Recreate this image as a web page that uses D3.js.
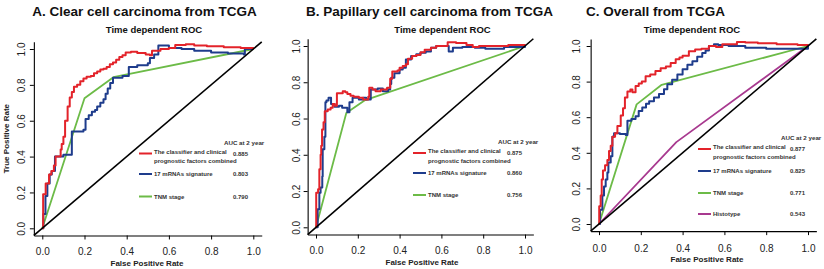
<!DOCTYPE html>
<html>
<head>
<meta charset="utf-8">
<script src="https://cdn.jsdelivr.net/npm/d3@7"></script>
<style>
  body { margin: 0; background: #fff; }
  svg { display: block; font-family: "Liberation Sans", Arial, sans-serif; }
</style>
</head>
<body>
<div id="wrapper"></div>
<script>
// tick values shared by every panel
const fprTicks = [0, 0.2, 0.4, 0.6, 0.8, 1.0]
const tprTicks = [0, 0.2, 0.4, 0.6, 0.8, 1.0]

const panelTitles = ["A. Clear cell carcinoma from TCGA", "B. Papillary cell carcinoma from TCGA", "C. Overall from TCGA"]
const subTitle = "Time dependent ROC"
const xTitle = "False Positive Rate"
const yTitle = "True Positive Rate"
const legendHeader = "AUC at 2 year"
const seriesNames = [
  ["The classifier and clinical", "prognostic factors combined"],
  ["17 mRNAs signature"],
  ["TNM stage"],
  ["Histotype"]
]

const clearAuc = ["0.885", "0.803", "0.790"]
const papAuc = ["0.875", "0.860", "0.756"]
const allAuc = ["0.877", "0.825", "0.771", "0.543"]

// ROC curves as [fpr, tpr] (step levels for the combined / signature curves)
const clearCombined = [[0,0],[0.004,0.19],[0.016,0.25],[0.032,0.30],[0.043,0.32],[0.055,0.35],[0.063,0.40],[0.087,0.44],[0.092,0.47],[0.1,0.51],[0.108,0.60],[0.12,0.68],[0.13,0.73],[0.14,0.76],[0.15,0.79],[0.165,0.80],[0.18,0.82],[0.195,0.835],[0.21,0.845],[0.23,0.85],[0.245,0.865],[0.26,0.875],[0.275,0.885],[0.29,0.89],[0.305,0.9],[0.32,0.915],[0.335,0.925],[0.35,0.94],[0.365,0.955],[0.38,0.965],[0.395,0.98],[0.42,0.985],[0.45,0.978],[0.49,0.97],[0.51,0.965],[0.52,0.99],[0.56,1.0],[0.6,1.005],[0.63,1.022],[0.68,1.027],[0.72,1.02],[0.78,1.015],[0.86,1.01],[0.94,1.005],[1,1]]
const clearSignature = [[0,0],[0.005,0.08],[0.015,0.18],[0.024,0.25],[0.035,0.30],[0.045,0.32],[0.06,0.40],[0.1,0.41],[0.14,0.54],[0.195,0.55],[0.205,0.61],[0.22,0.63],[0.235,0.65],[0.25,0.66],[0.26,0.68],[0.275,0.70],[0.29,0.72],[0.3,0.75],[0.31,0.78],[0.322,0.81],[0.335,0.84],[0.38,0.85],[0.41,0.9],[0.45,0.91],[0.5,0.92],[0.51,0.95],[0.53,0.97],[0.55,1.02],[0.6,1.005],[0.66,1.0],[0.72,0.99],[0.8,0.98],[0.88,0.975],[0.955,0.97],[0.96,1.0],[1,1]]
const clearTnm = [[0,0],[0.2,0.725],[0.337,0.843],[1,1]]

const papCombined = [[0,0],[0.001,0.19],[0.01,0.21],[0.016,0.32],[0.022,0.4],[0.025,0.45],[0.029,0.54],[0.036,0.58],[0.042,0.64],[0.056,0.65],[0.07,0.66],[0.08,0.68],[0.09,0.67],[0.1,0.74],[0.128,0.75],[0.14,0.745],[0.15,0.735],[0.165,0.725],[0.18,0.72],[0.205,0.715],[0.225,0.705],[0.25,0.72],[0.255,0.77],[0.27,0.76],[0.285,0.75],[0.31,0.76],[0.34,0.77],[0.355,0.82],[0.365,0.86],[0.39,0.865],[0.4,0.88],[0.415,0.89],[0.43,0.9],[0.44,0.93],[0.46,0.945],[0.48,0.95],[0.5,0.965],[0.52,0.98],[0.55,0.99],[0.575,1.0],[0.63,1.02],[0.67,1.017],[0.72,1.005],[0.75,0.995],[0.78,1.0],[0.85,1.0],[0.92,1.005],[1,1]]
const papSignature = [[0,0],[0.008,0.1],[0.016,0.19],[0.022,0.22],[0.03,0.28],[0.032,0.43],[0.04,0.5],[0.045,0.69],[0.05,0.7],[0.06,0.715],[0.072,0.68],[0.088,0.665],[0.11,0.67],[0.125,0.66],[0.15,0.635],[0.16,0.69],[0.175,0.715],[0.205,0.705],[0.225,0.715],[0.24,0.705],[0.262,0.76],[0.295,0.765],[0.32,0.75],[0.345,0.76],[0.355,0.79],[0.36,0.825],[0.375,0.85],[0.4,0.87],[0.415,0.88],[0.43,0.925],[0.455,0.945],[0.48,0.955],[0.5,0.963],[0.525,0.97],[0.55,0.99],[0.575,1.0],[0.635,0.97],[0.655,0.99],[0.7,0.995],[0.76,0.99],[0.81,0.985],[0.9,0.995],[1,1]]
const papTnm = [[0,0],[0.145,0.63],[0.232,0.70],[1,1]]

const allCombined = [[0,0],[0.001,0.1],[0.008,0.16],[0.013,0.25],[0.019,0.30],[0.029,0.33],[0.04,0.36],[0.048,0.41],[0.056,0.44],[0.064,0.49],[0.077,0.51],[0.088,0.55],[0.104,0.61],[0.115,0.65],[0.124,0.71],[0.136,0.745],[0.15,0.755],[0.16,0.74],[0.175,0.775],[0.19,0.79],[0.205,0.80],[0.223,0.83],[0.245,0.84],[0.27,0.86],[0.295,0.875],[0.32,0.885],[0.343,0.905],[0.367,0.925],[0.385,0.935],[0.4,0.945],[0.43,0.97],[0.46,0.98],[0.49,0.985],[0.526,1.0],[0.56,0.995],[0.59,1.01],[0.63,1.01],[0.66,1.022],[0.7,1.02],[0.76,1.015],[0.85,1.01],[0.95,1.005],[1,1]]
const allSignature = [[0,0],[0.005,0.08],[0.016,0.16],[0.024,0.21],[0.032,0.25],[0.04,0.29],[0.045,0.345],[0.056,0.38],[0.064,0.49],[0.072,0.51],[0.1,0.505],[0.128,0.50],[0.136,0.58],[0.155,0.59],[0.175,0.605],[0.19,0.635],[0.207,0.655],[0.225,0.675],[0.24,0.69],[0.263,0.71],[0.287,0.73],[0.311,0.757],[0.327,0.785],[0.35,0.81],[0.375,0.84],[0.4,0.87],[0.423,0.895],[0.447,0.915],[0.47,0.94],[0.494,0.96],[0.51,0.975],[0.526,1.0],[0.55,1.01],[0.57,1.005],[0.62,1.0],[0.7,0.99],[0.8,0.985],[0.95,0.985],[1,1]]
const allTnm = [[0,0],[0.18,0.672],[0.3,0.782],[1,1]]
const allHistotype = [[0,0],[0.37,0.46],[1,1]]

const seriesColors = ["#e3232a", "#1e3c8c", "#6cbb47", "#a8398f"]

// layout of the three panels (pixel positions)
const panels = [
  { title: panelTitles[0], titleX: 144.5, subX: 154, xRange: [42.3, 253.3], yRange: [228.3, 49], yLabelGap: 12.3,
    xLabelY: 252, xTitleX: 147, xTitleY: 266, showYTitle: true,
    curves: [clearTnm, clearSignature, clearCombined], auc: clearAuc,
    legend: { lineX: 139, textX: 154, valueX: 233, headerX: 224, headerY: 145, rowY: [153.5, 174, 196.5] } },
  { title: panelTitles[1], titleX: 429.5, subX: 442.5, xRange: [316, 525], yRange: [227.3, 46], yLabelGap: 10.7,
    xLabelY: 251, xTitleX: 422, xTitleY: 265, showYTitle: false,
    curves: [papTnm, papSignature, papCombined], auc: papAuc,
    legend: { lineX: 413, textX: 428, valueX: 507, headerX: 498, headerY: 144, rowY: [153, 173, 195] } },
  { title: panelTitles[2], titleX: 655.5, subX: 692, xRange: [599, 808], yRange: [224, 46], yLabelGap: 14.4,
    xLabelY: 248.5, xTitleX: 707, xTitleY: 262, showYTitle: false,
    curves: [allHistotype, allTnm, allSignature, allCombined], auc: allAuc,
    legend: { lineX: 698, textX: 713, valueX: 790, headerX: 781, headerY: 140, rowY: [149, 171, 193, 214] } }
]

const svg = d3.select("#wrapper")
  .append("svg")
    .attr("width", 824)
    .attr("height", 269)

function drawPanel(p) {
  const ux = p.xRange[1] - p.xRange[0]
  const uy = p.yRange[0] - p.yRange[1]
  const x = d3.scaleLinear().domain([-0.04, 1.04]).range([p.xRange[0] - 0.04 * ux, p.xRange[1] + 0.04 * ux])
  const y = d3.scaleLinear().domain([-0.04, 1.04]).range([p.yRange[0] + 0.04 * uy, p.yRange[1] - 0.04 * uy])
  const left = x.range()[0]
  const bottom = y.range()[0]

  const g = svg.append("g")

  // titles
  g.append("text")
    .attr("x", p.titleX).attr("y", 16)
    .attr("text-anchor", "middle")
    .attr("font-size", 13.5).attr("font-weight", "bold").attr("fill", "#111")
    .text(p.title)
  g.append("text")
    .attr("x", p.subX).attr("y", 33)
    .attr("text-anchor", "middle")
    .attr("font-size", 9.5).attr("font-weight", "bold").attr("fill", "#111")
    .text(subTitle)

  // axes
  const xAxis = g.append("g")
    .attr("transform", `translate(0,${bottom})`)
    .call(d3.axisBottom(x).tickValues(fprTicks).tickFormat(d3.format(".1f")).tickSize(4).tickSizeOuter(0))
  const yAxis = g.append("g")
    .attr("transform", `translate(${left},0)`)
    .call(d3.axisLeft(y).tickValues(tprTicks).tickFormat(d3.format(".1f")).tickSize(4).tickSizeOuter(0))

  for (const ax of [xAxis, yAxis]) {
    ax.select(".domain").attr("stroke", "#000").attr("stroke-width", 1.1)
    ax.selectAll(".tick line").attr("stroke", "#000")
    ax.selectAll("text").attr("font-size", 10).attr("fill", "#222").attr("font-family", null)
  }
  xAxis.selectAll("text").attr("y", p.xLabelY - bottom).attr("dy", "0.35em")
  yAxis.selectAll("text")
    .attr("transform", "rotate(-90)")
    .attr("x", 0).attr("y", -p.yLabelGap)
    .attr("dy", "0.35em")
    .attr("text-anchor", "middle")

  g.append("text")
    .attr("x", p.xTitleX).attr("y", p.xTitleY)
    .attr("text-anchor", "middle")
    .attr("font-size", 8).attr("font-weight", "bold").attr("fill", "#222")
    .text(xTitle)
  if (p.showYTitle) {
    g.append("text")
      .attr("transform", `translate(9,${(y.range()[0] + y.range()[1]) / 2}) rotate(-90)`)
      .attr("text-anchor", "middle")
      .attr("font-size", 8).attr("font-weight", "bold").attr("fill", "#222")
      .text(yTitle)
  }

  // curves, drawn back to front
  const stepLine = d3.line().x(d => x(d[0])).y(d => y(d[1])).curve(d3.curveStepAfter)
  const straightLine = d3.line().x(d => x(d[0])).y(d => y(d[1]))
  const n = p.curves.length
  p.curves.forEach((c, i) => {
    const series = n - 1 - i // index into legend order
    const stepped = series < 2
    g.append("path")
      .datum(c)
      .attr("fill", "none")
      .attr("stroke", seriesColors[series])
      .attr("stroke-width", stepped ? 2 : 1.8)
      .attr("stroke-linejoin", "round")
      .attr("d", stepped ? stepLine(c) : straightLine(c))
  })

  // reference diagonal
  g.append("path")
    .attr("fill", "none").attr("stroke", "#000").attr("stroke-width", 1.6)
    .attr("d", straightLine([[-0.04, -0.04], [1.04, 1.04]]))

  // legend
  const lg = p.legend
  g.append("text")
    .attr("x", lg.headerX).attr("y", lg.headerY)
    .attr("font-size", 6.2).attr("font-weight", "bold").attr("fill", "#333")
    .text(legendHeader)
  p.auc.forEach((v, i) => {
    const ry = lg.rowY[i]
    g.append("line")
      .attr("x1", lg.lineX).attr("x2", lg.lineX + 13)
      .attr("y1", ry).attr("y2", ry)
      .attr("stroke", seriesColors[i]).attr("stroke-width", 2)
    const lines = seriesNames[i]
    lines.forEach((t, j) => {
      g.append("text")
        .attr("x", lg.textX)
        .attr("y", lines.length > 1 ? ry - 2 + j * 9.5 : ry)
        .attr("dy", "0.35em")
        .attr("font-size", 6).attr("font-weight", "bold").attr("fill", "#333")
        .text(t)
    })
    g.append("text")
      .attr("x", lg.valueX).attr("y", ry)
      .attr("dy", "0.35em")
      .attr("font-size", 6).attr("font-weight", "bold").attr("fill", "#333")
      .text(v)
  })
}

panels.forEach(drawPanel)
</script>
</body>
</html>
